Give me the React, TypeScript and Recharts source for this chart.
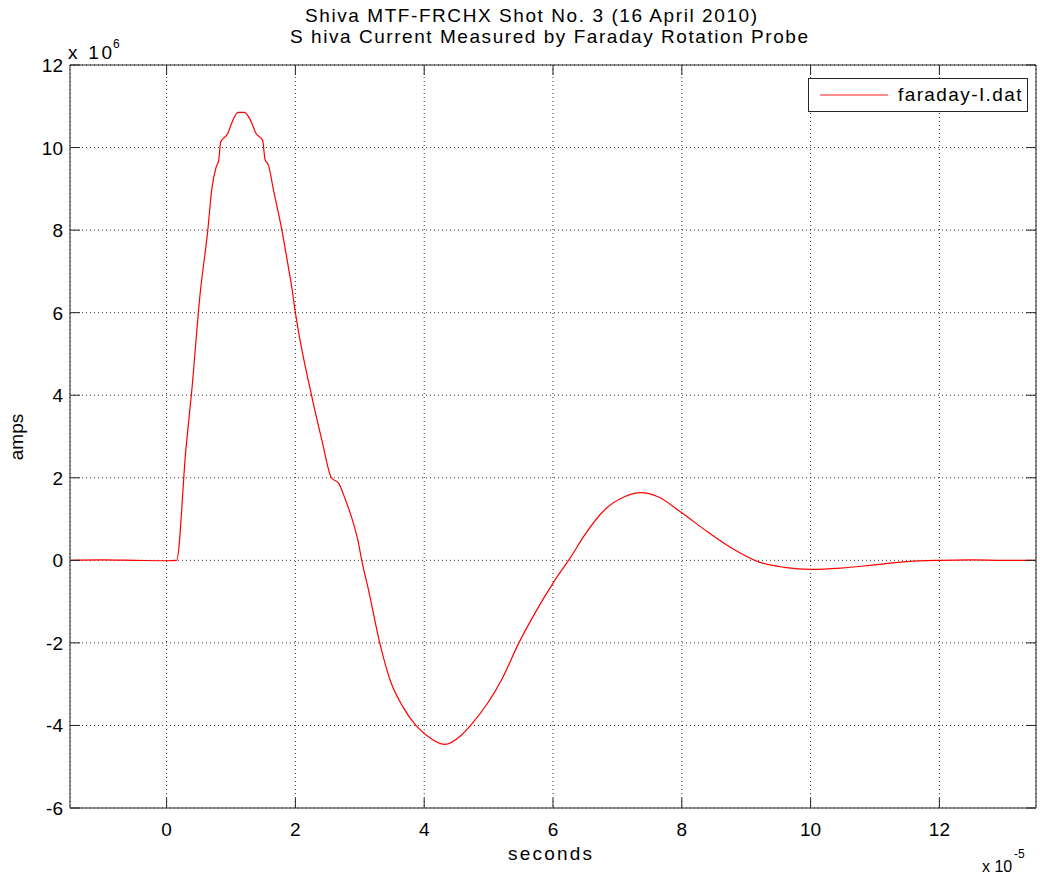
import React from 'react';
import { LineChart, Line, XAxis, YAxis, CartesianGrid, ReferenceArea, Legend } from 'recharts';

// time in units of 1e-5 s, current in units of 1e6 A
const timeE5 = [
  -1.5, -1.0, -0.5, 0.0, 0.155, 0.3, 0.39, 0.52, 0.64, 0.7, 0.77, 0.81, 0.84, 0.95, 1.01, 1.11,
  1.21, 1.3, 1.39, 1.49, 1.53, 1.58, 1.66, 1.79, 1.89, 1.95, 2.0, 2.25, 2.41, 2.56, 2.67, 2.77, 2.9,
  2.97, 3.03, 3.14, 3.31, 3.47, 3.67, 3.87, 4.03, 4.32, 4.58, 4.72, 5.2, 5.47, 5.72, 6.03, 6.28, 6.49,
  6.8, 7.11, 7.37, 7.63, 8.0, 8.4, 8.76, 9.18, 9.59, 10.0, 10.47, 10.99, 11.5, 12.02, 12.5, 13.0, 13.5,
];
const currentMA = [
  0.0, 0.01, 0.0, -0.01, 0.0, 2.7, 4.1, 6.45, 8.0, 8.97, 9.53, 9.7, 10.14, 10.34, 10.59, 10.85,
  10.85, 10.67, 10.34, 10.18, 9.7, 9.58, 8.97, 8.0, 7.11, 6.55, 6.0, 4.0, 2.92, 2.0, 1.87, 1.5, 0.9,
  0.49, 0.0, -0.75, -2.0, -2.9, -3.55, -4.0, -4.23, -4.46, -4.23, -4.0, -2.9, -2.0, -1.28, -0.48, 0.09, 0.61,
  1.22, 1.54, 1.64, 1.54, 1.15, 0.69, 0.31, -0.03, -0.17, -0.22, -0.19, -0.11, -0.03, 0.0, 0.01, 0.0, 0.0,
];
const xTicks = [0, 2, 4, 6, 8, 10, 12];
const yTicks = [-6, -4, -2, 0, 2, 4, 6, 8, 10, 12];
const xDomain = [-1.5, 13.5];
const yDomain = [-6, 12];
const seriesName = 'faraday-I.dat';

const data = timeE5.map((t, i) => ({ t, amps: currentMA[i] }));

const W = 1040;
const H = 875;
const PLOT = { left: 70, top: 65, right: 1036, bottom: 808 };
const FONT = '"Liberation Sans", Arial, Helvetica, sans-serif';
const AXIS = '#262626';
const TICK_LEN = 10;

function XTick(props: any) {
  const { x, y, payload } = props;
  const h = PLOT.bottom - PLOT.top;
  return (
    <g>
      <line x1={x} x2={x} y1={y} y2={y - TICK_LEN} stroke={AXIS} />
      <line x1={x} x2={x} y1={y - h} y2={y - h + TICK_LEN} stroke={AXIS} />
      <text x={x} y={y + 28} textAnchor="middle" fontSize={19} fontFamily={FONT} fill="#000">
        {payload.value}
      </text>
    </g>
  );
}

function YTick(props: any) {
  const { x, y, payload } = props;
  const w = PLOT.right - PLOT.left;
  return (
    <g>
      <line x1={x} x2={x + TICK_LEN} y1={y} y2={y} stroke={AXIS} />
      <line x1={x + w} x2={x + w - TICK_LEN} y1={y} y2={y} stroke={AXIS} />
      <text x={x - 7} y={y + 7} textAnchor="end" fontSize={19} fontFamily={FONT} fill="#000">
        {payload.value}
      </text>
    </g>
  );
}

function LegendBox(props: any) {
  const items = props.payload || [];
  return (
    <div
      style={{
        boxSizing: 'border-box',
        width: 220,
        height: 34,
        border: `1px solid ${AXIS}`,
        background: '#fff',
        display: 'flex',
        alignItems: 'center',
        fontFamily: FONT,
        fontSize: 19,
        letterSpacing: 1.4,
        color: '#000',
      }}
    >
      {items.map((it: any) => (
        <React.Fragment key={it.value}>
          <svg width={80} height={32} style={{ display: 'block' }}>
            <line x1={11} x2={79} y1={16} y2={16} stroke={it.color} strokeOpacity={0.6} strokeWidth={1.5} />
          </svg>
          <span style={{ marginLeft: 9 }}>{it.value}</span>
        </React.Fragment>
      ))}
    </div>
  );
}

export default function App() {
  return (
    <div style={{ position: 'absolute', left: 0, top: 0, width: W, height: H, background: '#fff' }}>
      <LineChart
        width={W}
        height={H}
        data={data}
        margin={{ top: PLOT.top, right: W - PLOT.right, left: 0, bottom: 0 }}
      >
        <CartesianGrid stroke="#333" strokeDasharray="1 3" />
        <XAxis
          dataKey="t"
          type="number"
          domain={xDomain}
          ticks={xTicks}
          interval={0}
          allowDataOverflow
          height={H - PLOT.bottom}
          tickSize={0}
          tickMargin={0}
          tickLine={false}
          axisLine={false}
          tick={<XTick />}
        />
        <YAxis
          type="number"
          domain={yDomain}
          ticks={yTicks}
          interval={0}
          allowDataOverflow
          width={PLOT.left}
          tickSize={0}
          tickMargin={0}
          tickLine={false}
          axisLine={false}
          tick={<YTick />}
        />
        <ReferenceArea
          x1={xDomain[0]}
          x2={xDomain[1]}
          y1={yDomain[0]}
          y2={yDomain[1]}
          fill="none"
          stroke={AXIS}
          strokeWidth={1}
        />
        <Line
          type="monotone"
          dataKey="amps"
          name={seriesName}
          stroke="#ff0000"
          strokeWidth={1.2}
          dot={false}
          isAnimationActive={false}
        />
        <Legend
          layout="horizontal"
          verticalAlign="middle"
          align="center"
          wrapperStyle={{ left: 808, top: 78, width: 220, height: 34 }}
          content={<LegendBox />}
        />
      </LineChart>
      <svg
        width={W}
        height={H}
        style={{ position: 'absolute', left: 0, top: 0, pointerEvents: 'none' }}
        fontFamily={FONT}
        fill="#000"
      >
        <text x={305} y={22} fontSize={19} textLength={452} lengthAdjust="spacing">
          Shiva MTF-FRCHX Shot No. 3 (16 April 2010)
        </text>
        <text x={290} y={43} fontSize={19} textLength={518} lengthAdjust="spacing">
          S hiva Current Measured by Faraday Rotation Probe
        </text>
        <text x={68} y={59} fontSize={19} textLength={44} lengthAdjust="spacing">x 10</text>
        <text x={113} y={48} fontSize={12}>6</text>
        <text x={982} y={872} fontSize={16}>x 10</text>
        <text x={1014} y={858} fontSize={12}>-5</text>
        <text x={508} y={860} fontSize={19} textLength={84} lengthAdjust="spacing">seconds</text>
        <text x={23} y={437} fontSize={19} textAnchor="middle" transform="rotate(-90 23 437)">
          amps
        </text>
      </svg>
    </div>
  );
}
